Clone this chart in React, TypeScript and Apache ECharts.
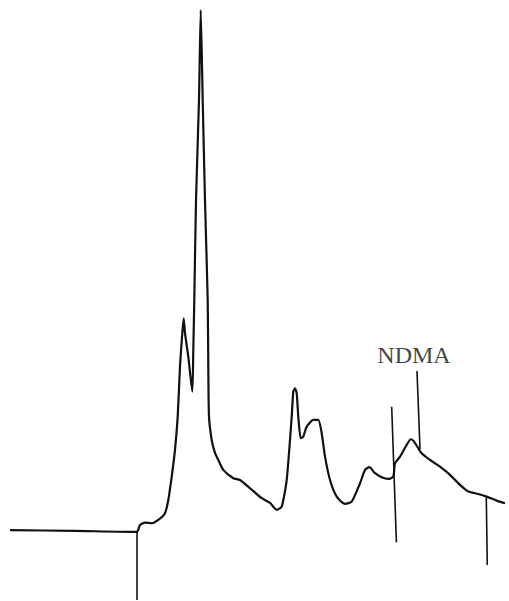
import React, { useEffect, useRef } from "react";
import * as echarts from "echarts";

// Chromatogram trace: retention time (arbitrary units) vs detector response (% of largest peak)
const retentionTime = [
  0, 13.1, 25.6, 25.9, 26.26, 27.27, 28.63, 29.96, 31.31, 31.98, 32.67, 33.33, 33.88, 34.34, 34.81,
  35.09, 35.35, 36.02, 36.83, 37.03, 37.23, 37.58, 38.18, 38.53, 38.93, 39.39, 39.94, 40.06, 40.2,
  40.75, 41.41, 42.08, 43.09, 45.11, 46.46, 48.48, 50.85, 52.53, 53.88, 54.89, 55.9, 56.91, 57.23,
  57.58, 57.92, 58.24, 58.73, 59.25, 59.94, 61.27, 62.28, 62.97, 63.64, 64.65, 66.0, 67.68, 69.03,
  70.71, 71.72, 72.59, 73.74, 75.09, 76.42, 77.43, 77.78, 78.79, 80.14, 80.95, 81.47, 82.28, 83.17,
  84.85, 86.87, 88.89, 90.91, 92.59, 94.61, 96.3, 98.32, 100,
];
const detectorResponse = [
  0.2, 0.05, -0.15, 0.24, 1.19, 1.64, 1.52, 2.16, 3.44, 5.99, 10.46, 15.59, 21.97, 31.57, 38.03,
  40.85, 38.03, 33.49, 26.77, 34.77, 44.36, 63.55, 82.73, 100, 82.73, 63.55, 44.36, 31.57, 21.97,
  17.5, 15.01, 13.67, 11.75, 10.16, 9.83, 8.24, 6.32, 5.42, 4.08, 4.71, 9.83, 21.97, 26.77,
  27.42, 26.46, 21.97, 17.83, 18.14, 20.06, 21.35, 21.35, 18.79, 14.3, 9.83, 6.63, 5.23, 5.67,
  9.2, 11.75, 12.27, 11.12, 10.35, 10.02, 10.46, 13.03, 14.3, 16.55, 17.64, 17.37, 16.22, 14.95,
  13.67, 12.38, 10.79, 8.87, 7.59, 7.14, 6.63, 5.86, 5.36,
];

// Pen strokes made by the recorder: injection, fraction cut start, NDMA, cut end
const injectionTime = [25.66, 25.66];
const injectionResponse = [0, -13.2];
const cutStartTime = [77.11, 78.06];
const cutStartResponse = [23.88, -2.12];
const ndmaTime = [82.22, 82.83];
const ndmaResponse = [30.73, 15.77];
const cutEndTime = [96.22, 96.42];
const cutEndResponse = [6.45, -6.49];

const ndmaLabel = "NDMA";

const ink = "#111111";

const pairs = (xs: number[], ys: number[]) => xs.map((x, i) => [x, ys[i]]);

const strokeSeries = (name: string, xs: number[], ys: number[]) => ({
  name,
  type: "line",
  data: pairs(xs, ys),
  symbol: "none",
  clip: false,
  lineStyle: { color: ink, width: 1.6 },
  silent: true,
});

export default function App() {
  const ref = useRef<HTMLDivElement>(null);

  useEffect(() => {
    document.body.style.margin = "0";
    if (!ref.current) return;
    const chart = echarts.init(ref.current, null, { renderer: "svg" });
    chart.setOption({
      animation: false,
      backgroundColor: "#ffffff",
      grid: { left: 10, right: 4, top: 10, bottom: 0 },
      xAxis: {
        type: "value",
        min: 0,
        max: 100,
        show: false,
      },
      yAxis: {
        type: "value",
        min: -13.4,
        max: 100,
        show: false,
      },
      series: [
        {
          name: "trace",
          type: "line",
          data: pairs(retentionTime, detectorResponse),
          symbol: "none",
          smooth: 0.2,
          clip: false,
          lineStyle: { color: ink, width: 2.2 },
          silent: true,
        },
        strokeSeries("injection", injectionTime, injectionResponse),
        strokeSeries("cutStart", cutStartTime, cutStartResponse),
        strokeSeries("ndma", ndmaTime, ndmaResponse),
        strokeSeries("cutEnd", cutEndTime, cutEndResponse),
        {
          name: "ndmaLabel",
          type: "scatter",
          data: [[ndmaTime[0], ndmaResponse[0]]],
          symbolSize: 1,
          itemStyle: { color: "rgba(0,0,0,0)" },
          clip: false,
          silent: true,
          label: {
            show: true,
            position: "top",
            distance: 4,
            offset: [-3, 0],
            formatter: ndmaLabel,
            color: ink,
            fontFamily: "'Liberation Serif', 'Times New Roman', serif",
            fontSize: 24,
          },
        },
      ],
    });
    return () => chart.dispose();
  }, []);

  return <div ref={ref} style={{ width: 509, height: 601 }} />;
}
